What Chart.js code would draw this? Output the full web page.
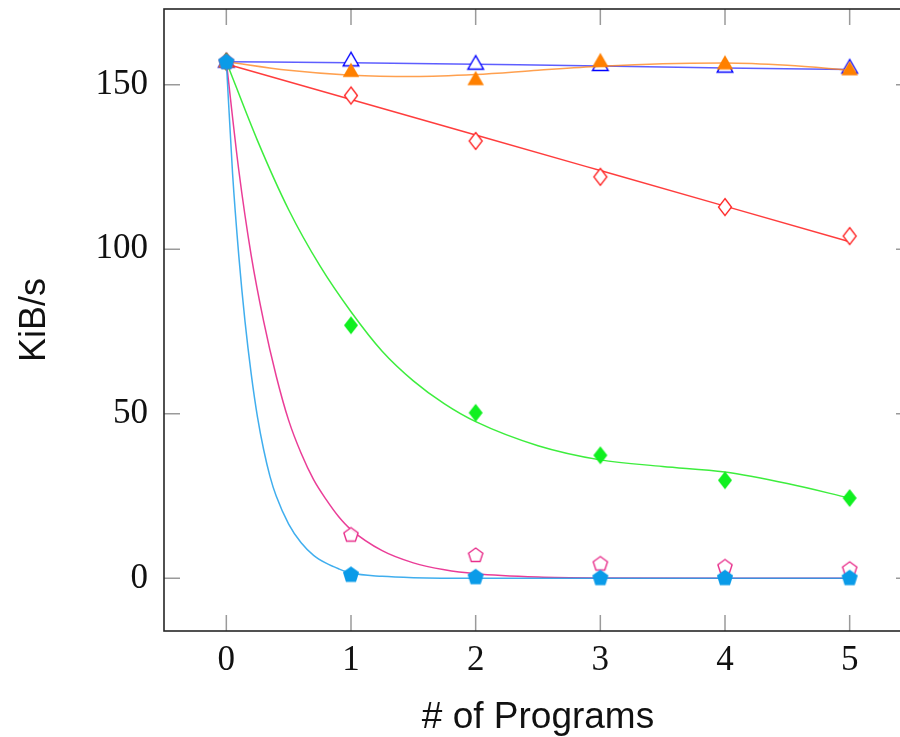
<!DOCTYPE html>
<html>
<head>
<meta charset="utf-8">
<script src="https://cdn.jsdelivr.net/npm/chart.js@4.4.1/dist/chart.umd.min.js"></script>
<style>
  html, body { margin: 0; padding: 0; background: #ffffff; overflow: hidden; }
  #wrap { position: absolute; left: 0; top: 0; width: 940px; height: 737px; }
</style>
</head>
<body>
<div id="wrap"><canvas id="c" width="940" height="737"></canvas></div>
<script>
// ---- Data ----
const xTicks = [0, 1, 2, 3, 4, 5];
const yTicks = [0, 50, 100, 150];
const programs = [0, 1, 2, 3, 4, 5];

// measured points
const blueOpenTriangle   = [157, 157.4, 156.4, 156.0, 155.5, 155.2];
const orangeTriangle     = [157, 154.1, 151.6, 157.1, 156.4, 154.6];
const redOpenDiamond     = [157, 146.7, 132.9, 122.0, 112.8, 104.0];
const greenDiamond       = [157, 76.9, 50.3, 37.4, 29.8, 24.4];
const pinkOpenPentagon   = [157, 13.3, 7.1, 4.5, 3.6, 2.9];
const cyanPentagon       = [157, 1.2, 0.5, 0.2, 0.2, 0.2];

// fitted curves
const blueFitX   = [0, 1, 2, 3, 4, 5];
const blueFitY   = [157, 156.7, 156.2, 155.7, 155.1, 154.6];
const orangeFitX = [0, 0.5, 1, 1.5, 2, 2.5, 3, 3.5, 4, 4.5, 5];
const orangeFitY = [157, 154.4, 152.9, 152.5, 153.1, 154.4, 155.6, 156.4, 156.6, 155.9, 154.4];
const redFitX    = [0, 1, 2, 3, 4, 5];
const redFitY    = [156.3, 145.5, 134.7, 123.9, 113.1, 102.3];
const greenFitX  = [0, 0.25, 0.5, 0.75, 1, 1.25, 1.5, 1.75, 2, 2.5, 3, 3.5, 4, 4.5, 5];
const greenFitY  = [157, 133, 112, 95, 81, 69, 60, 53, 47.6, 40.3, 36.0, 34.0, 32.3, 28.8, 24.4];
const pinkFitX   = [0, 0.1, 0.2, 0.3, 0.4, 0.5, 0.6, 0.7, 0.8, 0.9, 1, 1.25, 1.5, 1.75, 2, 2.5, 3, 4, 5];
const pinkFitY   = [157, 124, 98, 78, 61.5, 48, 38, 30, 24, 18.8, 14.8, 8.4, 4.7, 2.6, 1.4, 0.4, 0.1, 0, 0];
const cyanFitX   = [0, 0.05, 0.1, 0.15, 0.2, 0.25, 0.3, 0.35, 0.4, 0.5, 0.6, 0.7, 0.8, 0.9, 1, 1.25, 1.5, 2, 3, 4, 5];
const cyanFitY   = [157, 123, 98, 78, 62, 49, 39, 31, 25, 16.5, 10.8, 7, 4.6, 2.9, 1.6, 0.6, 0.2, 0, 0, 0, 0];

// ---- Marker images ----
function markerCanvas(w, h, draw) {
  const c = document.createElement('canvas');
  c.width = w; c.height = h;
  const g = c.getContext('2d');
  draw(g, w / 2, h / 2);
  return c;
}
function polyPath(g, pts) {
  g.beginPath();
  pts.forEach((p, i) => i ? g.lineTo(p[0], p[1]) : g.moveTo(p[0], p[1]));
  g.closePath();
}
function triPts(cx, cy, r) {
  return [[cx, cy - r], [cx - r * 0.866, cy + r * 0.5], [cx + r * 0.866, cy + r * 0.5]];
}
function diaPts(cx, cy, rx, ry) {
  return [[cx, cy - ry], [cx + rx, cy], [cx, cy + ry], [cx - rx, cy]];
}
function pentPts(cx, cy, r) {
  const p = [];
  for (let i = 0; i < 5; i++) {
    const a = -Math.PI / 2 + i * 2 * Math.PI / 5;
    p.push([cx + r * Math.cos(a), cy + r * Math.sin(a)]);
  }
  return p;
}
const mBlueTri = markerCanvas(22, 22, (g, cx, cy) => {
  polyPath(g, triPts(cx, cy + 1, 9)); g.fillStyle = '#fff'; g.fill();
  g.strokeStyle = '#0000ff'; g.lineWidth = 1.4; g.stroke();
});
const mOrangeTri = markerCanvas(22, 22, (g, cx, cy) => {
  polyPath(g, triPts(cx, cy + 1, 9.5)); g.fillStyle = '#ff8000'; g.fill();
});
const mRedDia = markerCanvas(20, 22, (g, cx, cy) => {
  polyPath(g, diaPts(cx, cy, 6.5, 8.5)); g.fillStyle = '#fff'; g.fill();
  g.strokeStyle = '#ff2020'; g.lineWidth = 1.3; g.stroke();
});
const mGreenDia = markerCanvas(20, 22, (g, cx, cy) => {
  polyPath(g, diaPts(cx, cy, 7, 9)); g.fillStyle = '#10f020'; g.fill();
});
const mPinkPent = markerCanvas(20, 20, (g, cx, cy) => {
  polyPath(g, pentPts(cx, cy + 0.5, 7.5)); g.fillStyle = 'rgba(255,255,255,0.9)'; g.fill();
  g.strokeStyle = '#e8308c'; g.lineWidth = 1.4; g.stroke();
});
const mCyanPent = markerCanvas(20, 20, (g, cx, cy) => {
  polyPath(g, pentPts(cx, cy + 0.5, 8.5)); g.fillStyle = '#0a9be8'; g.fill();
});

function pts(xs, ys) { return xs.map((x, i) => ({ x: x, y: ys[i] })); }

function lineDs(xs, ys, color, order) {
  return {
    data: pts(xs, ys), showLine: true, borderColor: color, borderWidth: 1.5,
    pointRadius: 0, pointHoverRadius: 0, cubicInterpolationMode: 'monotone',
    fill: false, order: order
  };
}
function markDs(ys, img, order) {
  return {
    data: pts(programs, ys), showLine: false, pointStyle: img,
    pointRadius: 8, pointHoverRadius: 8, order: order
  };
}

const datasets = [
  lineDs(blueFitX, blueFitY, 'rgba(40,40,255,0.75)', 12),
  markDs(blueOpenTriangle, mBlueTri, 11),
  lineDs(orangeFitX, orangeFitY, 'rgba(255,128,20,0.75)', 10),
  markDs(orangeTriangle, mOrangeTri, 9),
  lineDs(redFitX, redFitY, 'rgba(255,40,40,0.9)', 8),
  markDs(redOpenDiamond, mRedDia, 7),
  lineDs(greenFitX, greenFitY, 'rgba(40,235,40,0.9)', 6),
  markDs(greenDiamond, mGreenDia, 5),
  lineDs(pinkFitX, pinkFitY, 'rgba(232,40,140,0.9)', 4),
  markDs(pinkOpenPentagon, mPinkPent, 3),
  lineDs(cyanFitX, cyanFitY, 'rgba(30,160,235,0.85)', 2),
  markDs(cyanPentagon, mCyanPent, 1)
];

// ---- Box + inward ticks on all four sides ----
const frame = {
  id: 'frame',
  beforeDatasetsDraw(chart) {
    const { ctx, chartArea: a, scales } = chart;
    const L = 16;
    ctx.save();
    ctx.strokeStyle = '#9a9a9a';
    ctx.lineWidth = 1.5;
    ctx.beginPath();
    xTicks.forEach(v => {
      const px = scales.x.getPixelForValue(v);
      ctx.moveTo(px, a.bottom); ctx.lineTo(px, a.bottom - L);
      ctx.moveTo(px, a.top); ctx.lineTo(px, a.top + L);
    });
    yTicks.forEach(v => {
      const py = scales.y.getPixelForValue(v);
      ctx.moveTo(a.left, py); ctx.lineTo(a.left + L, py);
      ctx.moveTo(a.right, py); ctx.lineTo(a.right - L, py);
    });
    ctx.stroke();
    ctx.restore();
  },
  afterDraw(chart) {
    const { ctx, chartArea: a } = chart;
    ctx.save();
    ctx.strokeStyle = '#262626';
    ctx.lineWidth = 1.6;
    ctx.strokeRect(a.left, a.top, a.right - a.left, a.bottom - a.top);
    ctx.restore();
  }
};

new Chart(document.getElementById('c'), {
  type: 'scatter',
  data: { datasets: datasets },
  plugins: [frame],
  options: {
    responsive: false,
    animation: false,
    events: [],
    layout: { padding: { left: 0, right: 28, top: 8, bottom: 0 } },
    plugins: { legend: { display: false }, tooltip: { enabled: false } },
    scales: {
      x: {
        type: 'linear', min: -0.5, max: 5.5,
        afterBuildTicks: s => { s.ticks = xTicks.map(v => ({ value: v })); },
        afterFit: s => { s.height = 106; s.paddingLeft = 0; s.paddingRight = 0; },
        grid: { display: false, drawTicks: false },
        border: { display: false },
        ticks: {
          color: '#111', padding: 9, maxRotation: 0,
          font: { family: '"Liberation Serif", "DejaVu Serif", serif', size: 35 }
        },
        title: {
          display: true, text: '# of Programs', color: '#111',
          font: { family: '"Liberation Sans", Arial, sans-serif', size: 37 },
          padding: { top: 0, bottom: -3 }
        }
      },
      y: {
        type: 'linear', min: -16, max: 173,
        afterBuildTicks: s => { s.ticks = yTicks.map(v => ({ value: v })); },
        afterFit: s => { s.width = 164; s.paddingTop = 0; s.paddingBottom = 0; },
        grid: { display: false, drawTicks: false },
        border: { display: false },
        ticks: {
          color: '#111', padding: 16,
          font: { family: '"Liberation Serif", "DejaVu Serif", serif', size: 35 }
        },
        title: {
          display: true, text: 'KiB/s', color: '#111',
          font: { family: '"Liberation Sans", Arial, sans-serif', size: 36 },
          padding: { top: 13, bottom: 0 }
        }
      }
    }
  }
});
</script>
</body>
</html>
